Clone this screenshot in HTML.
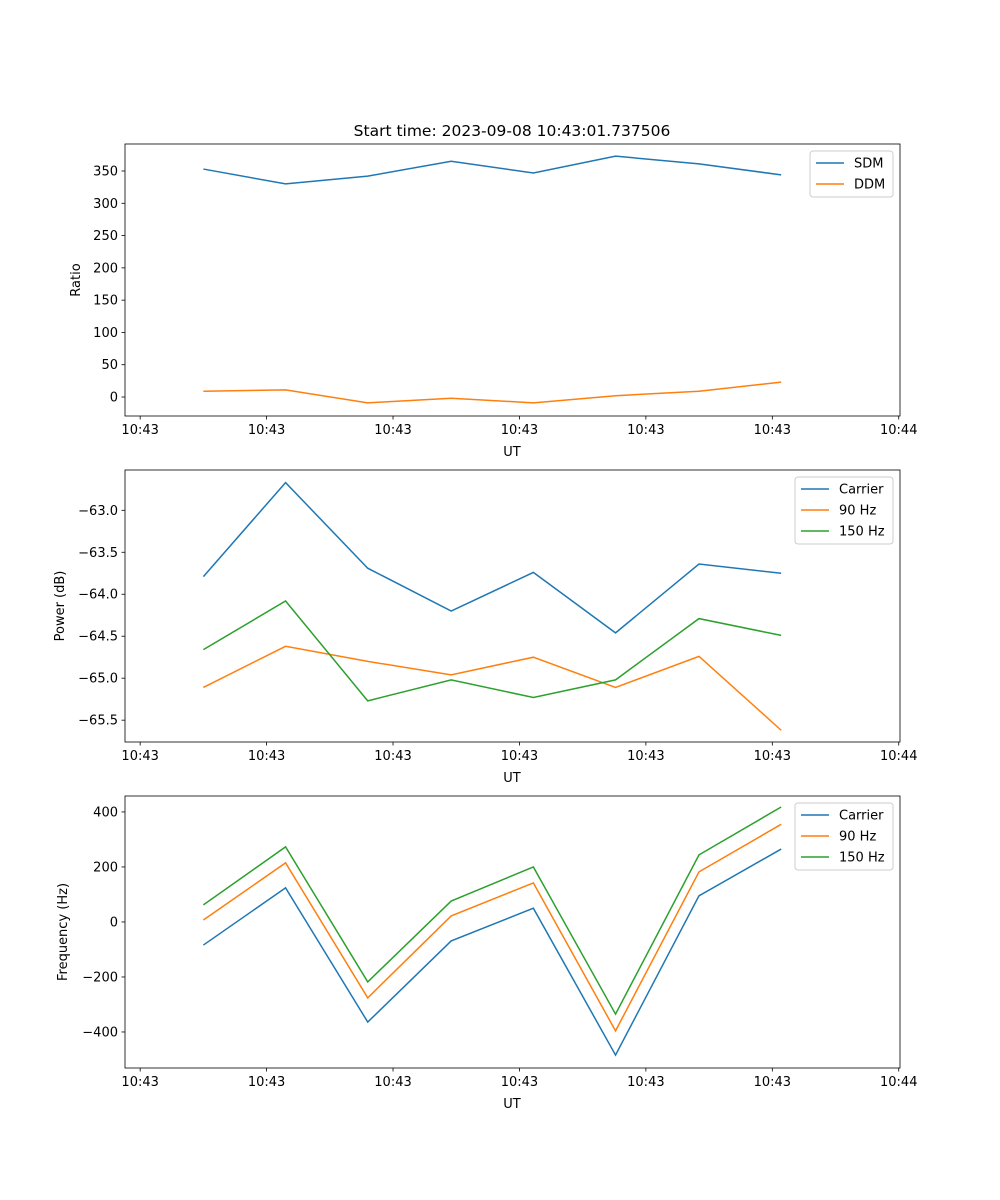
<!DOCTYPE html>
<html><head><meta charset="utf-8"><style>
html,body{margin:0;padding:0;background:#fff}
svg{display:block;font-family:"DejaVu Sans","Liberation Sans",sans-serif}
</style></head><body>
<svg id="fig" width="1000" height="1200" viewBox="0 0 1000 1200">
<rect width="1000" height="1200" fill="#fff"/>
<text x="512" y="136" font-size="15.5" text-anchor="middle">Start time: 2023-09-08 10:43:01.737506</text>
</svg>
<script>
const times = [5.0, 11.5, 18.0, 24.6, 31.1, 37.6, 44.2, 50.7];
const xTicks = [0, 10, 20, 30, 40, 50, 60];
const xTickLabels = ["10:43","10:43","10:43","10:43","10:43","10:43","10:44"];
const sdm = [353, 330, 342, 365, 347, 373, 361, 344];
const ddm = [9, 11, -9, -2, -9, 2, 9, 23];
const powCarrier = [-63.79, -62.67, -63.69, -64.20, -63.74, -64.46, -63.64, -63.75];
const pow90 = [-65.11, -64.62, -64.80, -64.96, -64.75, -65.11, -64.74, -65.62];
const pow150 = [-64.66, -64.08, -65.27, -65.02, -65.23, -65.02, -64.29, -64.49];
const freqCarrier = [-84, 124, -364, -69, 50, -484, 95, 265];
const freq90 = [7, 215, -276, 22, 142, -396, 182, 355];
const freq150 = [62, 273, -218, 76, 200, -335, 244, 418];
const ratioTicks = [0, 50, 100, 150, 200, 250, 300, 350];
const powTicks = [-63.0, -63.5, -64.0, -64.5, -65.0, -65.5];
const freqTicks = [400, 200, 0, -200, -400];

const NS = "http://www.w3.org/2000/svg";
const svg = document.getElementById("fig");
const C = ["#1f77b4", "#ff7f0e", "#2ca02c"];
function mk(tag, attrs, parent) {
  const e = document.createElementNS(NS, tag);
  for (const k in attrs) e.setAttribute(k, attrs[k]);
  (parent || svg).appendChild(e);
  return e;
}
const L = 125, R = 900, X0 = -1.2, X1 = 60.1;
const xs = v => L + (v - X0) / (X1 - X0) * (R - L);

function panel(key, top, bot, y0, y1, ticks, fmt, ylabel, series, names, leg) {
  const g = mk("g", {});
  
  
  const ys = v => bot - (v - y0) / (y1 - y0) * (bot - top);
  series.forEach((s, i) => {
    const p = mk("polyline", {points: s.map((v, j) => xs(times[j]) + "," + ys(v)).join(" "), fill: "none", stroke: C[i], "stroke-width": 1.5}, g);
    
    
  });
  mk("rect", {x: L, y: top, width: R - L, height: bot - top, fill: "none", stroke: "#000", "stroke-width": 0.8}, g);
  xTicks.forEach((t, i) => {
    const x = xs(t);
    mk("line", {x1: x, x2: x, y1: bot, y2: bot + 3.5, stroke: "#000", "stroke-width": 0.8}, g);
    const tx = mk("text", {x: x, y: bot + 18, "font-size": 13, "text-anchor": "middle"}, g);
    tx.textContent = xTickLabels[i];
    
    
  });
  const xl = mk("text", {x: 512, y: bot + 40, "font-size": 13, "text-anchor": "middle"}, g);
  xl.textContent = "UT";
  
  
  ticks.forEach(t => {
    const y = ys(t);
    mk("line", {x1: L, x2: L - 3.5, y1: y, y2: y, stroke: "#000", "stroke-width": 0.8}, g);
    const tx = mk("text", {x: L - 7, y: y + 4.5, "font-size": 13, "text-anchor": "end"}, g);
    tx.textContent = fmt(t);
    
    
  });
  const yl = mk("text", {x: 0, y: 0, "font-size": 13, "text-anchor": "middle", transform: `translate(${leg.yl},${(top + bot) / 2}) rotate(-90)`}, g);
  yl.textContent = ylabel;
  
  
  const lg = mk("g", {}, g);
  
  
  const h = 4 + names.length * 21;
  mk("rect", {x: leg.x, y: top + 7, width: 893 - leg.x, height: h, rx: 3, fill: "#fff", "fill-opacity": 0.8, stroke: "#ccc"}, lg);
  names.forEach((n, i) => {
    const y = top + 7 + 12 + i * 21;
    mk("line", {x1: leg.x + 6, x2: leg.x + 34, y1: y, y2: y, stroke: C[i], "stroke-width": 1.5}, lg);
    const tx = mk("text", {x: leg.x + 44, y: y + 4.5, "font-size": 13}, lg);
    tx.textContent = n;
    
    
  });
}
const minus = s => s.replace("-", "\u2212");
panel("ratio", 144, 416, -29.4, 391.8, ratioTicks, t => String(t), "Ratio", [sdm, ddm], ["SDM", "DDM"], {x: 810, yl: 80});
panel("power", 470, 742, -65.76, -62.52, powTicks, t => minus(t.toFixed(1)), "Power (dB)", [powCarrier, pow90, pow150], ["Carrier", "90 Hz", "150 Hz"], {x: 795, yl: 64});
panel("frequency", 796, 1068, -531, 458, freqTicks, t => minus(String(t)), "Frequency (Hz)", [freqCarrier, freq90, freq150], ["Carrier", "90 Hz", "150 Hz"], {x: 795, yl: 67});
</script>
</body></html>
